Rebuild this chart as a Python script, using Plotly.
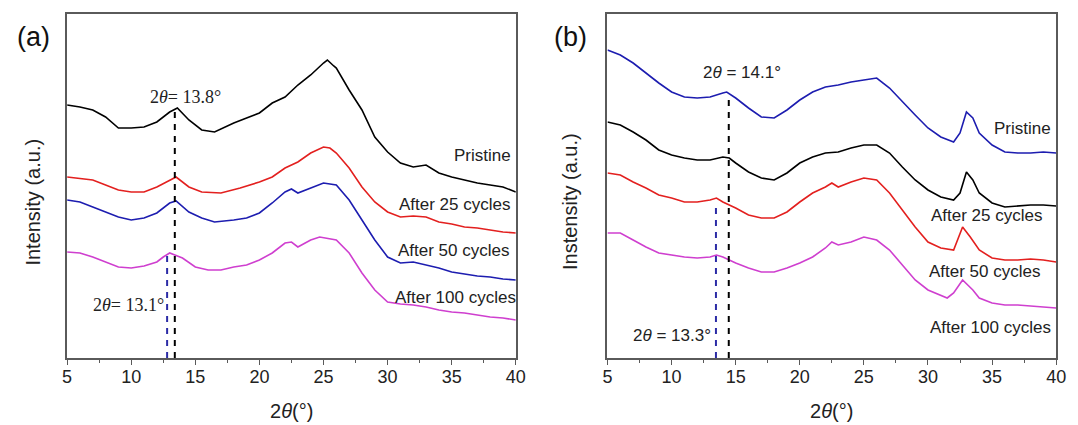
import plotly.graph_objects as go

# ---------------- data (intensity in arbitrary units) ----------------
# Panel (a)
xa_pristine = [5,6,7,8,9,10,11,12,13,13.6,14.5,15.5,16.5,18,19,20,21,22,23,24,25,25.3,25.8,26,27,28,29,30,31,32,33,34,35,36,37,38,39,40]
ya_pristine = [253,251,248,241,230,230,231,236,246,250,238,228,226,235,240,245,255,261,273,283,295,298,292,290,268,248,221,206,195,191,193,185,181,178,175,173,171,166]

xa_c25 = [5,7,8,9,10,11,12,13,13.5,14.5,15.5,17,18.5,20,21,22,23,24,25,25.5,26,27,28,29,30,31,32,33,34,35,36,37,38,39,40]
ya_c25 = [181,178,173,168,166,166,171,178,181,171,166,165,170,176,181,190,196,205,211,210,205,190,171,156,146,141,142,141,136,134,131,130,128,126,125]

xa_c50 = [5,6,7,8,9,10,11,12,13,13.5,14.5,15.5,16.5,18,19,20,21,22,22.5,23,24,25,26,27,28,29,30,31,32,33,34,35,36,37,38,39,40]
ya_c50 = [158,156,151,146,141,138,140,145,155,157,146,140,136,138,140,145,155,166,169,165,170,175,173,158,138,118,101,95,96,93,90,86,84,82,81,79,78]

xa_c100 = [5,6,7,8,9,10,11,12,12.5,13,14,15,16,17,18,19,20,21,22,22.5,23,24,24.7,26,27,28,29,30,31,32,33,34,35,36,37,38,39,40]
ya_c100 = [106,105,101,96,91,90,92,96,101,105,100,91,88,88,91,93,98,105,115,116,111,118,121,118,105,85,68,56,54,53,51,48,46,45,43,41,40,38]

# Panel (b)
xb_pristine = [5,6,7,8,9,10,11,12,13,14,14.3,15,16,17,18,19,20,21,22,23,24,25,26,27,28,29,30,31,32,32.5,33,33.5,34,35,36,37,38,39,40]
yb_pristine = [308,303,295,285,275,266,261,260,261,265,266,260,250,241,240,248,258,266,271,273,276,278,280,270,256,243,230,221,216,225,246,240,225,213,206,205,205,206,205]

xb_c25 = [5,6,7,8,9,10,11,12,13,14,14.5,15,16,17,18,19,20,21,22,23,24,25,26,27,28,29,30,31,32,32.5,33,33.5,34,35,36,37,38,39,40]
yb_c25 = [236,233,226,218,208,203,200,198,198,201,200,195,186,180,178,185,195,201,205,206,210,213,213,205,191,178,168,161,158,165,186,178,165,155,151,152,153,153,152]

xb_c50 = [5,6,7,8,9,10,11,12,13,13.5,14,15,16,17,18,19,20,21,22,22.5,23,24,25,26,27,28,29,30,31,32,32.7,33.3,34,35,36,37,38,39,40]
yb_c50 = [185,183,176,170,163,160,156,156,158,160,156,150,143,140,140,146,156,165,171,175,171,176,180,178,165,148,131,116,110,108,131,121,108,100,98,98,99,98,96]

xb_c100 = [5,6,7,8,9,10,11,12,13,13.5,14,15,16,17,18,19,20,21,22,22.5,23,24,25,26,27,28,29,30,31,31.5,32,32.7,33.5,34,35,36,37,38,39,40]
yb_c100 = [125,125,118,111,105,103,101,100,101,103,101,95,90,86,86,90,95,101,110,116,113,116,121,118,108,93,78,68,63,60,65,78,68,60,55,53,53,52,51,50]

# reference (dashed) lines: x position, top of line
ref_a_x = [13.4, 12.8]
ref_a_top = [250, 106]
ref_b_x = [14.46, 13.46]
ref_b_top = [263, 152]

series_names = ["Pristine", "After 25 cycles", "After 50 cycles", "After 100 cycles"]
x_ticks = [5, 10, 15, 20, 25, 30, 35, 40]

RED = "#e3201f"
BLUE = "#1d1db0"
BLACK = "#000000"
MAG = "#cf3fcf"
DASHBLUE = "#2b2ba6"

fig = go.Figure()

def add_line(x, y, color, xa, ya, name):
    fig.add_trace(go.Scatter(x=x, y=y, mode="lines", name=name,
                             line=dict(color=color, width=1.6),
                             xaxis=xa, yaxis=ya, showlegend=False, hoverinfo="skip"))

add_line(xa_pristine, ya_pristine, BLACK, "x", "y", series_names[0])
add_line(xa_c25, ya_c25, RED, "x", "y", series_names[1])
add_line(xa_c50, ya_c50, BLUE, "x", "y", series_names[2])
add_line(xa_c100, ya_c100, MAG, "x", "y", series_names[3])

add_line(xb_pristine, yb_pristine, BLUE, "x2", "y2", series_names[0])
add_line(xb_c25, yb_c25, BLACK, "x2", "y2", series_names[1])
add_line(xb_c50, yb_c50, RED, "x2", "y2", series_names[2])
add_line(xb_c100, yb_c100, MAG, "x2", "y2", series_names[3])

for xs, tops, xa, ya in [(ref_a_x, ref_a_top, "x", "y"), (ref_b_x, ref_b_top, "x2", "y2")]:
    for i, (xv, tv) in enumerate(zip(xs, tops)):
        fig.add_trace(go.Scatter(x=[xv, xv], y=[0, tv], mode="lines",
                                 line=dict(color=BLACK if i == 0 else DASHBLUE, width=2, dash="6px,6px"),
                                 xaxis=xa, yaxis=ya, showlegend=False, hoverinfo="skip"))

W, H = 1078, 425
def px_x(p):
    return p / W
def px_y(p):
    return 1 - p / H

frame = "#5a5a5a"
xax_common = dict(range=[5, 40], tickvals=x_ticks, ticks="outside", ticklen=5, tickwidth=1.3,
                  tickcolor=frame, showline=True, linecolor=frame, linewidth=1.5, mirror=True,
                  showgrid=False, zeroline=False, ticklabelstandoff=-3,
                  tickfont=dict(family="Liberation Sans, Arial", size=18, color="#222"),
                  minor=dict(dtick=2.5, tick0=5, ticks="outside", ticklen=3, tickwidth=1.2, tickcolor=frame))
yax_common = dict(range=[0, 344], showticklabels=False, ticks="", showline=True, linecolor=frame,
                  linewidth=1.5, mirror=True, showgrid=False, zeroline=False)

fig.update_layout(
    width=W, height=H, margin=dict(l=0, r=0, t=0, b=0),
    paper_bgcolor="white", plot_bgcolor="white",
    xaxis=dict(domain=[px_x(63), px_x(518)], anchor="y", **xax_common),
    yaxis=dict(domain=[px_y(358), px_y(14)], anchor="x", **yax_common),
    xaxis2=dict(domain=[px_x(611), px_x(1066)], anchor="y2", **xax_common),
    yaxis2=dict(domain=[px_y(358), px_y(14)], anchor="x2", **yax_common),
)

sans = "Liberation Sans, Arial"
serif = "Liberation Serif, Times New Roman"
anns = []
# panel labels
anns.append(dict(text="(a)", xref="paper", yref="paper", x=px_x(29), y=px_y(37), showarrow=False,
                 font=dict(family=sans, size=27, color="#111"), xanchor="center", yanchor="middle"))
anns.append(dict(text="(b)", xref="paper", yref="paper", x=px_x(573), y=px_y(37), showarrow=False,
                 font=dict(family=sans, size=27, color="#111"), xanchor="center", yanchor="middle"))
# y titles
anns.append(dict(text="Intensity (a.u.)", xref="paper", yref="paper", x=px_x(28), y=px_y(202), showarrow=False,
                 textangle=-90, font=dict(family=sans, size=20, color="#222"), xanchor="center", yanchor="middle"))
anns.append(dict(text="Instensity (a.u.)", xref="paper", yref="paper", x=px_x(573), y=px_y(202), showarrow=False,
                 textangle=-90, font=dict(family=sans, size=20, color="#222"), xanchor="center", yanchor="middle"))
# x titles
for cx in [290.5, 838.5]:
    anns.append(dict(text="2<i>θ</i>(°)", xref="paper", yref="paper", x=px_x(cx), y=px_y(411), showarrow=False,
                     font=dict(family=sans, size=20, color="#222"), xanchor="center", yanchor="middle"))
# peak annotations
anns.append(dict(text="2<i>θ</i>= 13.8°", xref="x", yref="y", x=14.2, y=261, showarrow=False,
                 font=dict(family=serif, size=18, color="#222"), xanchor="center", yanchor="middle"))
anns.append(dict(text="2<i>θ</i>= 13.1°", xref="x", yref="y", x=9.75, y=53, showarrow=False,
                 font=dict(family=serif, size=18, color="#222"), xanchor="center", yanchor="middle"))
anns.append(dict(text="2<i>θ</i> = 14.1°", xref="x2", yref="y2", x=15.5, y=286, showarrow=False,
                 font=dict(family=sans, size=17, color="#222"), xanchor="center", yanchor="middle"))
anns.append(dict(text="2<i>θ</i> = 13.3°", xref="x2", yref="y2", x=10.0, y=23, showarrow=False,
                 font=dict(family=sans, size=17, color="#222"), xanchor="center", yanchor="middle"))
# curve labels (pixel positions of right edge, centre)
label_a = [(515, 155), (515, 204), (514, 250), (520, 297)]
label_b = [(1063, 129), (1055, 215), (1053, 271), (1063, 327)]
for name, (lx, ly) in zip(series_names, label_a):
    anns.append(dict(text=name, xref="paper", yref="paper", x=px_x(lx), y=px_y(ly), showarrow=False,
                     font=dict(family=sans, size=17, color="#222"), xanchor="right", yanchor="middle"))
for name, (lx, ly) in zip(series_names, label_b):
    anns.append(dict(text=name, xref="paper", yref="paper", x=px_x(lx), y=px_y(ly), showarrow=False,
                     font=dict(family=sans, size=17, color="#222"), xanchor="right", yanchor="middle"))

fig.update_layout(annotations=anns)
fig.write_html("out.html", config={"displayModeBar": False},
               post_script="document.body.style.margin='0';document.body.style.padding='0';"
                           "document.documentElement.style.overflow='hidden';")
